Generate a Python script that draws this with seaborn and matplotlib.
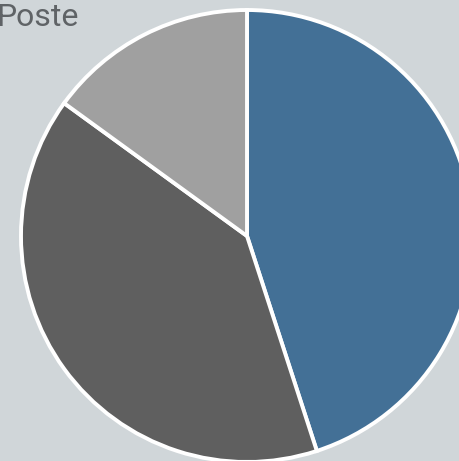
import matplotlib
matplotlib.use("Agg")
import matplotlib.pyplot as plt
import seaborn as sns

sns.set_style("white")
plt.rcParams['font.family'] = ['Roboto', 'DejaVu Sans']

# data
labels = ['A', 'B', 'C']
values = [45, 40, 15]
colors = ['#437096', '#5f5f5f', '#a0a0a0']
bg = '#d0d6d9'

fig = plt.figure(figsize=(4.59, 4.61), dpi=100, facecolor=bg)
ax = fig.add_axes([0, 0, 1, 1])
ax.set_facecolor(bg)

ax.pie(values, colors=colors, startangle=90, counterclock=False,
       radius=1, wedgeprops=dict(edgecolor='white', linewidth=2.8))

# pie centre sits at (247, 236) px with a 226 px radius
r = 226
ax.set_aspect('auto')
ax.set_xlim(-247 / r, (459 - 247) / r)
ax.set_ylim(-(461 - 236) / r, 236 / r)
ax.axis('off')

fig.text(-4 / 459, 1 - 26 / 461, 'Poste', fontsize=23, color='#5f6366',
         ha='left', va='baseline')

fig.savefig('out.png', dpi=100, facecolor=bg)
